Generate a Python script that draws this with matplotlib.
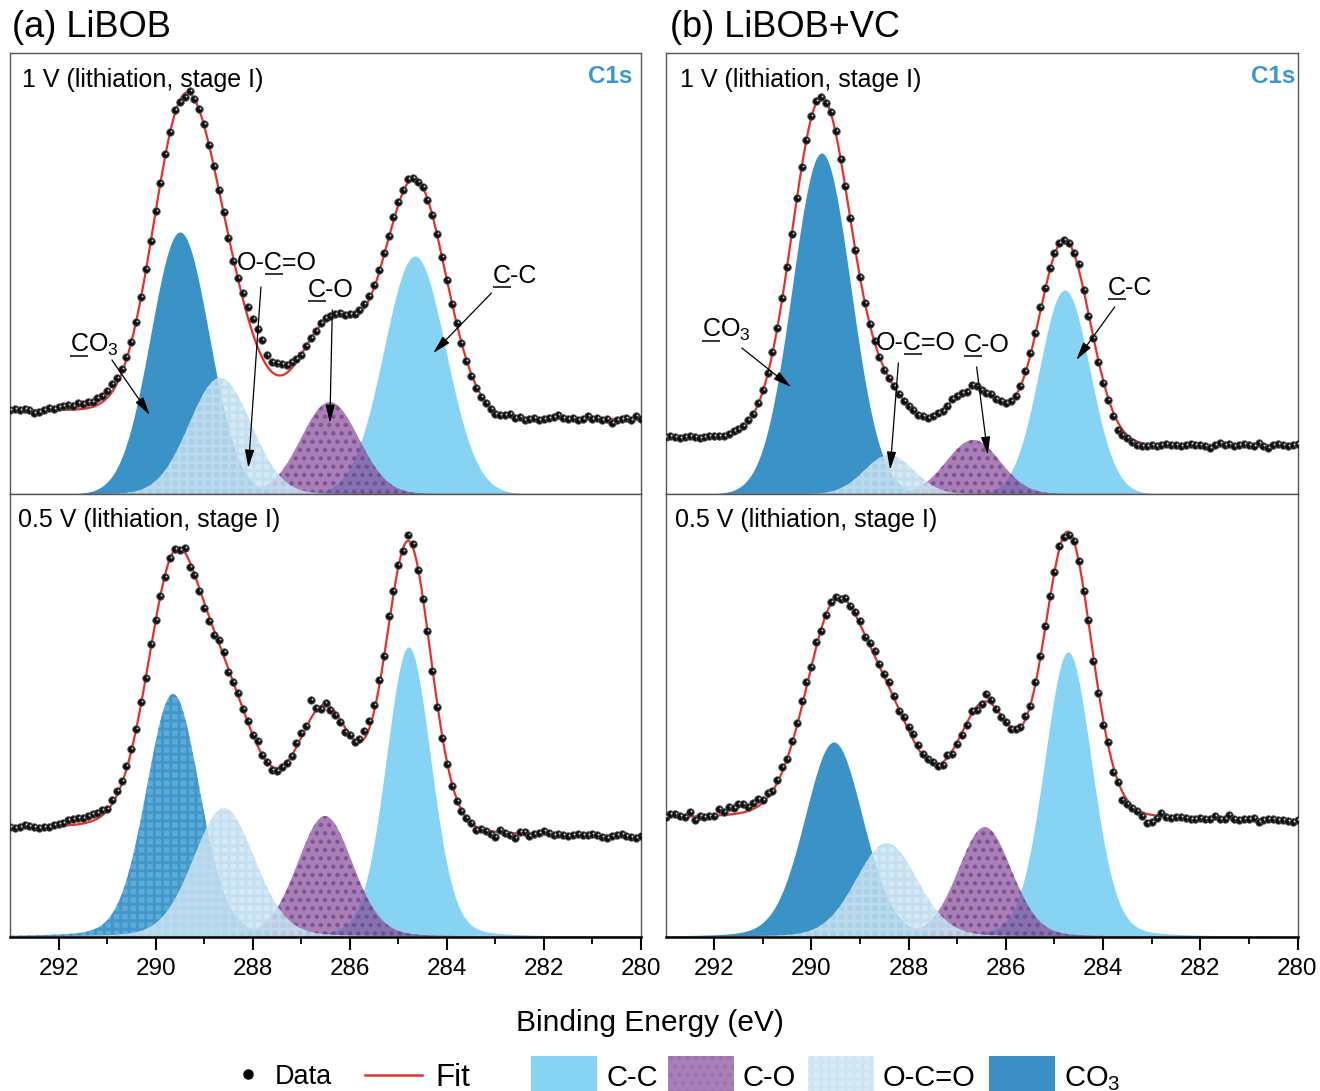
import numpy as np
import matplotlib
matplotlib.use('Agg')
import matplotlib.pyplot as plt
from matplotlib.patches import Rectangle

plt.rcParams['font.family'] = ['Liberation Sans', 'DejaVu Sans']
plt.rcParams['mathtext.fontset'] = 'custom'
plt.rcParams['mathtext.rm'] = 'Liberation Sans'
plt.rcParams['mathtext.it'] = 'Liberation Sans:italic'
plt.rcParams['hatch.linewidth'] = 2.0

# ---------------- data ----------------
components = ['C-C', 'C-O', 'O-C=O', 'CO3']
tick_values = [292, 290, 288, 286, 284, 282, 280]
panel_titles = ['(a) LiBOB', '(b) LiBOB+VC']
state_labels = ['1 V (lithiation, stage I)', '0.5 V (lithiation, stage I)']

# binding energy of the measured points (eV), 0.1 eV steps from 293 down to 280
data_energy = np.round(293.0 - 0.1 * np.arange(131), 1)

# fitted components: centre (eV), height (counts, a.u.), FWHM (eV)  order: C-C, C-O, O-C=O, CO3
a1_center = [284.66, 286.41, 288.67, 289.50]
a1_height = [238, 92, 116, 262]
a1_fwhm = [1.50, 1.40, 1.50, 1.42]
a1_bg = [75, 84]
a1_eta = 0.0

a2_center = [284.79, 286.51, 288.59, 289.64]
a2_height = [290, 121, 129, 243]
a2_fwhm = [1.10, 1.35, 1.50, 1.30]
a2_bg = [100, 107]
a2_eta = 0.15

b1_center = [284.79, 286.67, 288.40, 289.79]
b1_height = [204, 54, 39, 341]
b1_fwhm = [1.23, 1.30, 1.20, 1.42]
b1_bg = [49, 57]
b1_eta = 0.0

b2_center = [284.72, 286.43, 288.45, 289.54]
b2_height = [285, 110, 94, 195]
b2_fwhm = [1.16, 1.30, 1.50, 1.42]
b2_bg = [116, 118]
b2_eta = 0.15

# measured points: deviation of each point from the fit envelope (a.u.)
a1_resid = [0, 1, 0, 1, 0, -3, -2, 0, 2, 1,
            3, 4, 5, 4, 6, 5, 6, 5, 7, 6,
            7, 8, 6, 4, 2, 0, -1, 0, 1, 0,
            1, 0, 2, 0, 3, -2, -4, 2, 0, 1,
            2, 0, 0, -1, 0, -2, -3, 2, 6, 10,
            14, 18, 18, 12, 10, 12, 11, 8, 6, 3,
            0, 1, 0, 0, 2, 2, 1, 2, 3, 2,
            3, 2, 3, 4, 4, 3, 3, 4, 3, 4,
            3, 2, 3, 0, -2, 0, -1, 0, 1, 0,
            -1, -2, 0, -1, -2, -2, -3, -2, -1, -2,
            -3, -1, 1, 3, 0, 1, -1, 0, 1, -1,
            0, 1, 2, 4, 1, 0, 1, -1, 0, 3,
            0, 1, -1, 0, -4, -1, 0, 1, -1, 3, 0]
a2_resid = [1, 0, 1, 2, 1, 0, -1, 0, 0, 1,
            2, 3, 5, 6, 6, 6, 6, 7, 6, 5,
            2, 4, 5, 3, 3, 2, 0, 2, -1, 5,
            1, -1, -3, 0, 1, -2, 4, -5, -1, -3,
            -6, -5, -5, 3, 4, -3, 0, 3, 0, 1,
            0, 5, 0, 0, -3, -3, 0, 0, 0, 4,
            5, 1, 18, 3, -3, 2, -3, -3, -3, -5,
            0, -1, 3, 8, 8, 7, 8, 3, 10, 4,
            2, -3, 6, 3, -3, -3, 0, -4, -4, -3,
            -3, -3, -2, -1, 0, 0, -3, 0, -1, -3,
            -5, 2, 0, -2, -5, 2, 2, -2, 0, 1,
            3, 2, 0, 1, 0, -1, 0, 1, 0, 0,
            1, 0, -1, -2, 0, 1, 2, 0, -1, -2, 0]
b1_resid = [0, 1, 0, -1, 0, 1, 0, -1, 0, 1,
            1, 0, 0, 1, 2, 2, 1, 2, 1, 2,
            2, 1, 1, 0, 1, 0, -1, 1, 0, -1,
            1, 2, 0, -2, 1, 2, -1, 1, 0, -1,
            0, -1, 0, 1, 0, -1, 0, 1, 0, -1,
            0, 1, -1, 0, -1, 0, 1, -1, 0, 2,
            0, -1, -3, 3, 2, 0, 0, 2, 1, 1,
            0, 0, 0, 0, 2, 3, 3, 7, 4, 3,
            2, 1, 0, 0, 0, 5, 0, -3, -1, -2,
            -3, -3, -5, -8, -5, -3, -3, -3, -3, -2,
            -1, -1, 0, 1, 0, 0, -1, 0, 1, 0,
            0, -1, -3, 0, 2, 0, 1, -1, 0, 1,
            0, -1, 2, -1, -3, 0, 1, 0, -1, 0, 1]
b2_resid = [0, 3, 3, 1, 0, 5, -4, 0, -1, 0,
            0, 6, 3, 8, 6, 9, 8, 4, 6, 7,
            3, 5, 0, 3, 5, 0, 3, 3, 6, 5,
            0, 5, -2, 0, 2, 1, -2, 2, 0, 2,
            3, -2, 2, 5, 2, 3, 5, 2, -2, 3,
            3, 6, 4, 2, 2, 2, -2, -3, 3, -3,
            -2, -3, -2, 3, -3, -2, 7, 4, 0, -2,
            0, -2, 0, 0, 4, 0, 4, 5, 5, 5,
            0, 3, -2, -3, 0, 0, -2, 2, -5, -4,
            -6, 2, -7, -2, -8, -4, -2, -1, -4, -9,
            -7, -2, 3, 0, -1, 0, 1, 0, -1, -1,
            0, -1, 0, 3, 0, 0, 4, 0, -1, 0,
            0, 1, -2, 0, 1, 1, 0, 0, -1, -2, 0]

# annotation positions (eV, a.u.) for top panels: label, arrow tail, arrow tip
a1_notes = [('', 'C', 'O$_3$', (291.76, 142), (290.90, 134), (290.12, 79)),
            ('O-', 'C', '=O', (288.32, 224), (287.83, 207), (288.09, 26)),
            ('', 'C', '-O', (286.86, 197), (286.36, 184), (286.41, 71)),
            ('', 'C', '-C', (283.05, 211), (283.08, 201), (284.28, 141))]
b1_notes = [('', 'C', 'O$_3$', (292.25, 157), (291.43, 146), (290.42, 107)),
            ('O-', 'C', '=O', (288.67, 144), (288.21, 131), (288.38, 24)),
            ('', 'C', '-O', (286.86, 142), (286.60, 127), (286.37, 39)),
            ('', 'C', '-C', (283.90, 199), (283.76, 187), (284.55, 134))]

# ---------------- style ----------------
W, H = 1320, 1091
fig = plt.figure(figsize=(W / 100, H / 100), dpi=100)

fill_style = {
    'C-C': dict(color='#86D3F3', alpha=1.0, hatch=None, hc='#86D3F3'),
    'C-O': dict(color='#834A98', alpha=0.70, hatch='..', hc='#774089'),
    'O-C=O': dict(color='#CAE4F2', alpha=0.78, hatch='++', hc='#C0DDEF'),
    'CO3': dict(color='#3B92C6', alpha=1.0, hatch=None, hc='#3B92C6'),
}
draw_order = [0, 1, 3, 2]
red = '#E8302A'
spine_gray = '#555555'


def profile(E, c, h, w, eta):
    x = (E - c) / w
    return h * ((1 - eta) * np.exp(-4 * np.log(2) * x ** 2) + eta / (1 + 4 * x ** 2))


def model(E_fine, centers, heights, fwhms, bg, eta):
    comps = [profile(E_fine, c, h, w, eta) for c, h, w in zip(centers, heights, fwhms)]
    total = np.sum(comps, axis=0)
    area = np.concatenate([[0], np.cumsum(0.5 * (total[1:] + total[:-1]) * np.diff(E_fine))])
    background = bg[0] + (bg[1] - bg[0]) * area / area[-1]
    return comps, total + background


def underlined(ax, x, y, pre, mid, post, size):
    t = ax.text(x, y, pre + mid + post, fontsize=size, ha='left', va='baseline', zorder=6)
    r = fig.canvas.get_renderer()
    fp = t.get_fontproperties()

    def w(s):
        if not s:
            return 0.0
        return r.get_text_width_height_descent(s, fp, ismath=False)[0]
    xd, yd = ax.transData.transform((x, y))
    xs = xd + w(pre)
    xe = xd + w(pre + mid)
    yl = yd - 3.5
    inv = ax.transData.inverted()
    (xa, ya), (xb, yb) = inv.transform([(xs, yl), (xe, yl)])
    ax.plot([xa, xb], [ya, yb], color='k', lw=1.1, solid_capstyle='butt', zorder=6)


def draw_panel(ax, centers, heights, fwhms, bg, eta, resid, ymax, bottom, co3_style=None):
    ax.set_xlim(293, 280)
    ax.set_ylim(0, ymax)
    ax.set_autoscale_on(False)
    E_fine = np.linspace(280, 293, 1301)
    comps, fit = model(E_fine, centers, heights, fwhms, bg, eta)
    for k in draw_order:
        st = dict(fill_style[components[k]])
        if components[k] == 'CO3' and co3_style is not None:
            st.update(co3_style)
        ax.fill_between(E_fine, 0, comps[k], facecolor=st['color'], alpha=st['alpha'],
                        hatch=st['hatch'], edgecolor=st['hc'], linewidth=0, zorder=2)
    ax.plot(E_fine, fit, color=red, lw=1.6, zorder=4)
    y_data = np.interp(data_energy[::-1], E_fine, fit)[::-1] + np.array(resid)
    ax.plot(data_energy, y_data, 'o', ms=5.4, mfc='#111111', mec='#555555', mew=0.6, zorder=5)
    ax.plot(data_energy - 0.02, y_data + 1.0, 'o', ms=1.4, mfc='#cfcfcf', mec='none', zorder=5)
    ax.set_yticks([])
    for s in ['left', 'right', 'top', 'bottom']:
        ax.spines[s].set_color(spine_gray)
        ax.spines[s].set_linewidth(1.0)
    if bottom:
        ax.spines['bottom'].set_color('black')
        ax.spines['bottom'].set_linewidth(1.8)
        ax.set_xticks(tick_values)
        ax.set_xticks(np.arange(281, 293, 2), minor=True)
        ax.set_xticklabels([str(v) for v in tick_values], fontsize=17.5)
        ax.tick_params(axis='x', which='major', direction='out', length=9, width=1.5, pad=6)
        ax.tick_params(axis='x', which='minor', direction='out', length=5, width=1.3)
    else:
        ax.set_xticks([])


ax_a1 = fig.add_axes([10 / W, 1 - 494 / H, 631 / W, 441 / H])
ax_a2 = fig.add_axes([10 / W, 1 - 937 / H, 631 / W, 443 / H])
ax_b1 = fig.add_axes([665.5 / W, 1 - 494 / H, 632 / W, 441 / H])
ax_b2 = fig.add_axes([665.5 / W, 1 - 937 / H, 632 / W, 443 / H])

draw_panel(ax_a1, a1_center, a1_height, a1_fwhm, a1_bg, a1_eta, a1_resid, 441, False)
draw_panel(ax_a2, a2_center, a2_height, a2_fwhm, a2_bg, a2_eta, a2_resid, 443, True,
           co3_style=dict(color='#3B97CE', alpha=0.82, hatch='++', hc='#3993C9'))
draw_panel(ax_b1, b1_center, b1_height, b1_fwhm, b1_bg, b1_eta, b1_resid, 441, False)
draw_panel(ax_b2, b2_center, b2_height, b2_fwhm, b2_bg, b2_eta, b2_resid, 443, True)

# state labels and C1s tags
ax_a1.text(0.0185, 0.924, state_labels[0], transform=ax_a1.transAxes, fontsize=18, va='baseline')
ax_b1.text(0.023, 0.924, state_labels[0], transform=ax_b1.transAxes, fontsize=18, va='baseline')
ax_a2.text(0.013, 0.925, state_labels[1], transform=ax_a2.transAxes, fontsize=18, va='baseline')
ax_b2.text(0.015, 0.925, state_labels[1], transform=ax_b2.transAxes, fontsize=18, va='baseline')
ax_a1.text(0.986, 0.932, 'C1s', transform=ax_a1.transAxes, fontsize=17.5, fontweight='bold',
           color='#3A98CF', ha='right', va='baseline')
ax_b1.text(0.996, 0.932, 'C1s', transform=ax_b1.transAxes, fontsize=17.5, fontweight='bold',
           color='#3A98CF', ha='right', va='baseline')

arrow = dict(arrowstyle='-|>,head_length=0.55,head_width=0.14', color='black', lw=0.9,
             shrinkA=0, shrinkB=0, mutation_scale=20)
for ax, notes in [(ax_a1, a1_notes), (ax_b1, b1_notes)]:
    for pre, mid, post, pos, tail, tip in notes:
        underlined(ax, pos[0], pos[1], pre, mid, post, 18)
        ax.annotate('', xy=tip, xytext=tail, arrowprops=arrow, zorder=6)

# titles and axis label
fig.text(12 / W, 1 - 37 / H, panel_titles[0], fontsize=26, va='baseline')
fig.text(670 / W, 1 - 37 / H, panel_titles[1], fontsize=26, va='baseline')
fig.text(650 / W, 1 - 1031 / H, 'Binding Energy (eV)', fontsize=21.5, ha='center', va='baseline')

# legend (figure pixel coordinates)
lax = fig.add_axes([0, 0, 1, 1])
lax.set_xlim(0, W)
lax.set_ylim(H, 0)
lax.axis('off')
lax.plot([248], [1074], 'o', ms=6.5, color='black')
lax.text(275, 1084, 'Data', fontsize=19.5, va='baseline')
lax.plot([365, 422], [1075, 1075], color=red, lw=1.8)
lax.text(435, 1086, 'Fit', fontsize=22.5, va='baseline')
legend_boxes = [(531, '#86D3F3', None, '#86D3F3', 'C-C'), (668, '#A87FB6', '..', '#9D72AD', 'C-O'),
                (808, '#D7EAF6', '++', '#CCE4F3', 'O-C=O'), (989, '#3B8FC4', None, '#3B8FC4', 'CO$_3$')]
for x0, col, hat, hcol, lab in legend_boxes:
    lax.add_patch(Rectangle((x0, 1056), 66, 36, facecolor=col, edgecolor=hcol,
                            hatch=hat, linewidth=0))
    lax.text(x0 + 75, 1086, lab, fontsize=21, va='baseline')

fig.savefig('out.png', dpi=100)
